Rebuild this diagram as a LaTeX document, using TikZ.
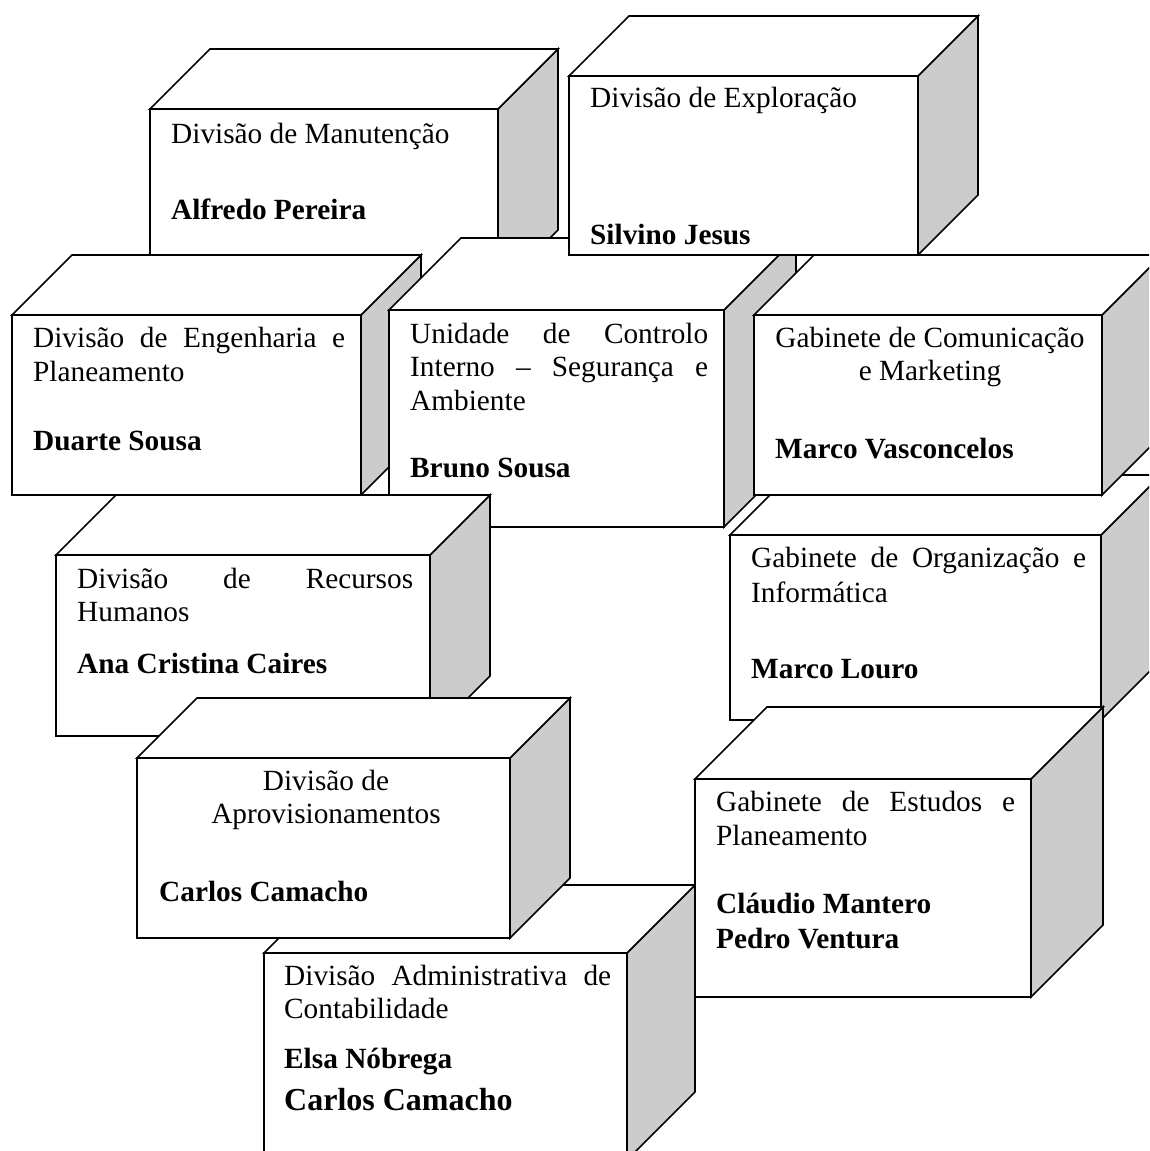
\documentclass[tikz,border=0pt]{standalone}
\usepackage{fontspec}
\setmainfont{Liberation Serif}
\definecolor{sidegray}{RGB}{204,204,204}
\newcommand\cubeshape[6]{% name x1 y1 x2 y2 depth
  \path[cubeside] (#4,#3) -- ({#4+#6},{#3-#6}) -- ({#4+#6},{#5-#6}) -- (#4,#5) -- cycle;
  \path[cubeface] (#2,#3) -- ({#2+#6},{#3-#6}) -- ({#4+#6},{#3-#6}) -- (#4,#3) -- cycle;
  \path[cubeface] (#2,#3) rectangle (#4,#5);
  \coordinate (#1) at (#2,#3);
}
\newcommand\jl[2]{\makebox[#1pt][s]{#2}}
\tikzset{
  cubeface/.style={draw=black, line width=1.7pt, fill=white, line join=miter},
  cubeside/.style={draw=black, line width=1.7pt, fill=sidegray, line join=miter},
  txt/.style={anchor=base west, inner sep=0pt, font=\fontsize{29.3}{34}\selectfont},
  ctxt/.style={anchor=base, inner sep=0pt, font=\fontsize{29.3}{34}\selectfont},
  nametxt/.style={anchor=base west, inner sep=0pt, font=\fontsize{29.3}{34}\selectfont\bfseries},
  bignametxt/.style={anchor=base west, inner sep=0pt, font=\fontsize{32}{37}\selectfont\bfseries},
}
\begin{document}
\begin{tikzpicture}[x=1pt,y=-1pt]
\useasboundingbox (0,0) rectangle (1149,1151);
\clip (0,0) rectangle (1149,1151);
\fill[white] (0,0) rectangle (1149,1151);

% Divisao de Manutencao
\cubeshape{M}{150}{109}{498}{290}{60}
\node[txt] (m1) at (171,143) {Divisão de Manutenção};
\node[nametxt] (m2) at (171,219) {Alfredo Pereira};

% Divisao de Engenharia
\cubeshape{EN}{12}{315}{361}{495}{60}
\node[txt] (en1) at (33,347) {\jl{312}{Divisão de Engenharia e}};
\node[txt] (en2) at (33,381) {Planeamento};
\node[nametxt] (en3) at (33,450) {Duarte Sousa};

% Unidade de Controlo Interno
\cubeshape{U}{389}{310}{724}{527}{72}
\node[txt] (u1) at (410,343) {\jl{298}{Unidade de Controlo}};
\node[txt] (u2) at (410,376) {\jl{298}{Interno – Segurança e}};
\node[txt] (u3) at (410,410) {Ambiente};
\node[nametxt] (u4) at (410,477) {Bruno Sousa};

% Divisao de Exploracao
\cubeshape{E}{569}{76}{918}{255}{60}
\node[txt] (e1) at (590,107) {Divisão de Exploração};
\node[nametxt] (e2) at (590,244) {Silvino Jesus};

% Gabinete de Organizacao
\cubeshape{O}{730}{535}{1101}{720}{60}
\node[txt] (o1) at (751,567) {\jl{335}{Gabinete de Organização e}};
\node[txt] (o2) at (751,602) {Informática};
\node[nametxt] (o3) at (751,678) {Marco Louro};

% Gabinete de Comunicacao
\cubeshape{C}{754}{315}{1102}{495}{60}
\node[ctxt] (c1) at (930,347) {Gabinete de Comunicação};
\node[ctxt] (c2) at (930,380) {e Marketing};
\node[nametxt] (c3) at (775,458) {Marco Vasconcelos};

% Divisao de Recursos Humanos
\cubeshape{R}{56}{555}{430}{736}{60}
\node[txt] (r1) at (77,588) {\jl{336}{Divisão de Recursos}};
\node[txt] (r2) at (77,621) {Humanos};
\node[nametxt] (r3) at (77,673) {Ana Cristina Caires};

% Divisao Administrativa
\cubeshape{CT}{264}{953}{627}{1160}{68}
\node[txt] (ct1) at (284,985) {\jl{327}{Divisão Administrativa de}};
\node[txt] (ct2) at (284,1018) {Contabilidade};
\node[nametxt] (ct3) at (284,1068) {Elsa Nóbrega};
\node[bignametxt] (ct4) at (284,1110) {Carlos Camacho};

% Divisao de Aprovisionamentos
\cubeshape{A}{137}{758}{510}{938}{60}
\node[ctxt] (a1) at (326,790) {Divisão de};
\node[ctxt] (a2) at (326,823) {Aprovisionamentos};
\node[nametxt] (a3) at (159,901) {Carlos Camacho};

% Gabinete de Estudos
\cubeshape{ES}{695}{779}{1031}{997}{72}
\node[txt] (es1) at (716,811) {\jl{299}{Gabinete de Estudos e}};
\node[txt] (es2) at (716,845) {Planeamento};
\node[nametxt] (es3) at (716,913) {Cláudio Mantero};
\node[nametxt] (es4) at (716,948) {Pedro Ventura};
\end{tikzpicture}
\end{document}
